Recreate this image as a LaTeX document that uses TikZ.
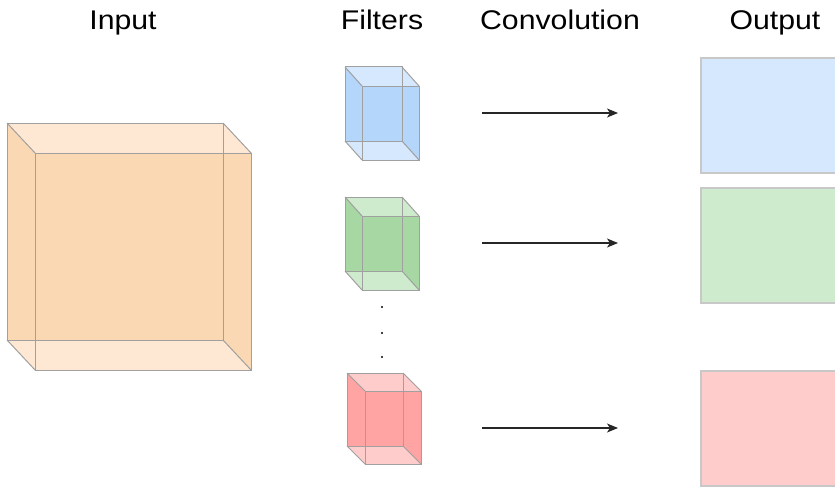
\documentclass[tikz,border=0pt]{standalone}
\usepackage{fontspec}
\setmainfont{Liberation Sans}[FakeStretch=1.12]
\usepackage{tikz}
\usetikzlibrary{arrows.meta}
\definecolor{inLight}{HTML}{FFE8D3}
\definecolor{inDark}{HTML}{FBD8B4}
\definecolor{blueLight}{HTML}{D6E8FD}
\definecolor{blueDark}{HTML}{B4D6FA}
\definecolor{greenLight}{HTML}{CFEBCD}
\definecolor{greenDark}{HTML}{A7D7A2}
\definecolor{redLight}{HTML}{FFCCCC}
\definecolor{redDark}{HTML}{FFA3A3}
\definecolor{edgeGray}{HTML}{A0A0A0}
\definecolor{outBorder}{HTML}{C8C8C8}
% #1,#2 back corner, #3 width, #4 height, #5,#6 depth, #7 colour prefix
\newcommand{\glasscube}[7]{%
	\fill[#7Light] (#1,#2) -- ({#1+#3},#2) -- ({#1+#3+#5},{#2+#6}) -- ({#1+#3+#5},{#2+#4+#6})
		-- ({#1+#5},{#2+#4+#6}) -- (#1,{#2+#4}) -- cycle;
	\fill[#7Dark] (#1,#2) -- ({#1+#5},{#2+#6}) -- ({#1+#3+#5},{#2+#6}) -- ({#1+#3+#5},{#2+#4+#6})
		-- ({#1+#3},{#2+#4}) -- (#1,{#2+#4}) -- cycle;
	\draw[cubeedge] (#1,#2) rectangle ({#1+#3},{#2+#4});
	\draw[cubeedge] ({#1+#5},{#2+#6}) rectangle ({#1+#3+#5},{#2+#4+#6});
	\draw[cubeedge] (#1,#2) -- ({#1+#5},{#2+#6}) ({#1+#3},#2) -- ({#1+#3+#5},{#2+#6})
		(#1,{#2+#4}) -- ({#1+#5},{#2+#4+#6}) ({#1+#3},{#2+#4}) -- ({#1+#3+#5},{#2+#4+#6});
}
\tikzset{
	cubeedge/.style={edgeGray, line width=1pt},
	title/.style={anchor=base, font=\fontsize{27}{30}\selectfont},
	outbox/.style={draw=outBorder, line width=2pt, anchor=north west, minimum width=150pt, minimum height=115pt, inner sep=0pt},
	conv/.style={-{Stealth[length=11pt, width=9pt, inset=3pt]}, line width=1.1pt, black!85},
}

\begin{document}
\begin{tikzpicture}[x=1pt, y=-1pt]
	\useasboundingbox (0,0) rectangle (835,487);
	\clip (0,0) rectangle (835,487);
	% titles
	\node[title] (tIn) at (123,30) {Input};
	\node[title] (tFil) at (382,30) {Filters};
	\node[title] (tConv) at (560,30) {Convolution};
	\node[title] (tOut) at (775,30) {Output};
	% input volume
	\glasscube{7}{123}{216}{217}{28.5}{30.5}{in}
	% filters
	\glasscube{345}{67}{57}{74}{17}{19}{blue}
	\glasscube{345}{197}{57}{74}{17}{19}{green}
	\glasscube{347}{373}{56}{73}{18}{18}{red}
	% dots
	\foreach \y in {307,333,357}
		\fill (382,\y) circle (1.2pt);
	% outputs
	\node[outbox, fill=blueLight] (oBlue) at (700,57) {};
	\node[outbox, fill=greenLight] (oGreen) at (700,187) {};
	\node[outbox, fill=redLight] (oRed) at (700,370) {};
	% convolution arrows
	\coordinate (cBlue) at (482,113);
	\coordinate (cGreen) at (482,243);
	\coordinate (cRed) at (482,428);
	\draw[conv, shorten >=82pt] (cBlue) -- (cBlue -| oBlue.west);
	\draw[conv, shorten >=82pt] (cGreen) -- (cGreen -| oGreen.west);
	\draw[conv, shorten >=82pt] (cRed) -- (cRed -| oRed.west);
\end{tikzpicture}
\end{document}
